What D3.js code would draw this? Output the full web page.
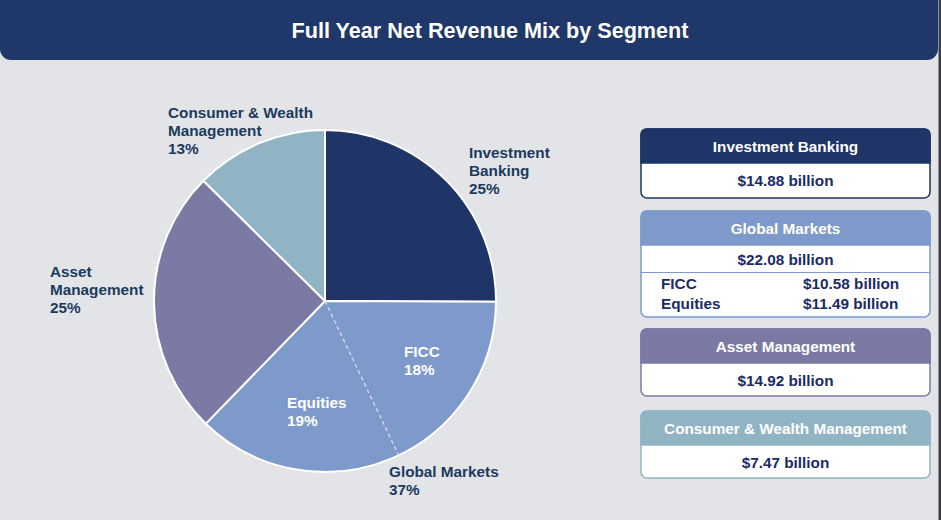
<!DOCTYPE html>
<html><head><meta charset="utf-8">
<script src="https://cdn.jsdelivr.net/npm/d3@7"></script>
<style>
html,body{margin:0;padding:0;background:#e3e4e8;}
svg{display:block;}
text{font-family:"Liberation Sans",Arial,sans-serif;font-weight:bold;}
</style></head>
<body>
<svg id="chart" width="941" height="520"></svg>
<script>
// ---- data ----
const title = "Full Year Net Revenue Mix by Segment";
const segments = ["Investment Banking", "FICC", "Equities", "Asset Management", "Consumer & Wealth Management"];
const revenue = [14.88, 10.58, 11.49, 14.92, 7.47]; // $ billion
const pctLabels = ["25%", "18%", "19%", "25%", "13%"];
const groupNames = ["Investment Banking", "Global Markets", "Asset Management", "Consumer & Wealth Management"];
const groupValues = ["$14.88 billion", "$22.08 billion", "$14.92 billion", "$7.47 billion"];
const groupPct = ["25%", "37%", "25%", "13%"];
const subNames = ["FICC", "Equities"];
const subValues = ["$10.58 billion", "$11.49 billion"];

const colors = ["#1f3567", "#7d9aca", "#7d9aca", "#7a7aa5", "#91b4c4"];
const groupColors = ["#1f3567", "#7d9aca", "#7a7aa5", "#91b4c4"];

const W = 941, H = 520;
const svg = d3.select("#chart");
const FS = 15.3;

// background
svg.append("rect").attr("width", W).attr("height", H).attr("fill", "#e3e4e8");
svg.append("rect").attr("x", 938.5).attr("y", 0).attr("width", 2.5).attr("height", H).attr("fill", "#3a3d44");

// title bar with rounded bottom corners
const tb = {x: 0, y: -12, w: 938, h: 72, r: 11};
svg.append("rect").attr("x", tb.x).attr("y", tb.y).attr("width", tb.w).attr("height", tb.h)
  .attr("rx", tb.r).attr("fill", "#1f3769");
svg.append("text").attr("x", 490).attr("y", 37.5).attr("text-anchor", "middle")
  .attr("fill", "#ffffff").attr("font-size", 22)
  .style("font-family", "'Liberation Sans Narrow','Arial Narrow','Liberation Sans',Arial,sans-serif")
  .attr("textLength", 397).attr("lengthAdjust", "spacingAndGlyphs")
  .text(title);

// ---- pie ----
const cx = 325, cy = 301, R = 171;
const pie = d3.pie().sort(null).value(d => d);
const arcsData = pie(revenue);
const arc = d3.arc().innerRadius(0).outerRadius(R);
const g = svg.append("g").attr("transform", `translate(${cx},${cy})`);

// merge FICC + Equities into one Global Markets wedge for the outline
const wedges = [
  {startAngle: arcsData[0].startAngle, endAngle: arcsData[0].endAngle, c: colors[0]},
  {startAngle: arcsData[1].startAngle, endAngle: arcsData[2].endAngle, c: colors[1]},
  {startAngle: arcsData[3].startAngle, endAngle: arcsData[3].endAngle, c: colors[3]},
  {startAngle: arcsData[4].startAngle, endAngle: arcsData[4].endAngle, c: colors[4]}
];
g.selectAll("path.w").data(wedges).join("path").attr("class", "w")
  .attr("d", arc).attr("fill", d => d.c).attr("stroke", "#ffffff").attr("stroke-width", 2)
  .attr("stroke-linejoin", "round");

// dashed FICC / Equities divider
const a = arcsData[1].endAngle;
g.append("line").attr("x1", 0).attr("y1", 0)
  .attr("x2", Math.sin(a) * R).attr("y2", -Math.cos(a) * R)
  .attr("stroke", "#d3ddef").attr("stroke-width", 1.3).attr("stroke-dasharray", "4,3");

// outside labels
const outLabels = [
  {lines: ["Investment", "Banking", groupPct[0]], x: 469, y: 158},
  {lines: ["Global Markets", groupPct[1]], x: 389, y: 477},
  {lines: ["Asset", "Management", groupPct[2]], x: 50, y: 277},
  {lines: ["Consumer & Wealth", "Management", groupPct[3]], x: 168, y: 118}
];
outLabels.forEach(l => {
  const t = svg.append("text").attr("x", l.x).attr("y", l.y).attr("fill", "#1c3a5e").attr("font-size", FS);
  l.lines.forEach((s, i) => t.append("tspan").attr("x", l.x).attr("dy", i ? 18 : 0).text(s));
});
// inside labels (FICC, Equities)
const inLabels = [
  {lines: [segments[1], pctLabels[1]], x: 404, y: 357},
  {lines: [segments[2], pctLabels[2]], x: 287, y: 408}
];
inLabels.forEach(l => {
  const t = svg.append("text").attr("x", l.x).attr("y", l.y).attr("fill", "#ffffff").attr("font-size", FS);
  l.lines.forEach((s, i) => t.append("tspan").attr("x", l.x).attr("dy", i ? 18 : 0).text(s));
});

// ---- boxes ----
const bx = 641, bw = 289;
const boxes = [
  {y: 129, hh: 34, bh: 69},
  {y: 211, hh: 34, bh: 106},
  {y: 329, hh: 34, bh: 67},
  {y: 411, hh: 34, bh: 67}
];
function roundedTop(x, y, w, h, r) {
  return `M${x},${y + h}V${y + r}Q${x},${y} ${x + r},${y}H${x + w - r}Q${x + w},${y} ${x + w},${y + r}V${y + h}Z`;
}
boxes.forEach((b, i) => {
  const col = groupColors[i];
  svg.append("rect").attr("x", bx).attr("y", b.y).attr("width", bw).attr("height", b.bh)
    .attr("rx", 6).attr("fill", "#ffffff").attr("stroke", col).attr("stroke-width", 1.5);
  svg.append("path").attr("d", roundedTop(bx, b.y, bw, b.hh, 6)).attr("fill", col)
    .attr("stroke", col).attr("stroke-width", 1.5);
  svg.append("text").attr("x", bx + bw / 2).attr("y", b.y + 23).attr("text-anchor", "middle")
    .attr("fill", "#ffffff").attr("font-size", FS).text(groupNames[i]);
  svg.append("text").attr("x", bx + bw / 2).attr("y", b.y + b.hh + 23 - (i === 1 ? 3 : 0)).attr("text-anchor", "middle")
    .attr("fill", "#1c2b66").attr("font-size", FS).text(groupValues[i]);
});
// Global Markets sub rows
svg.append("line").attr("x1", bx).attr("x2", bx + bw).attr("y1", 272.5).attr("y2", 272.5)
  .attr("stroke", groupColors[1]).attr("stroke-width", 1.2);
subNames.forEach((s, i) => {
  svg.append("text").attr("x", 661).attr("y", 289 + i * 20).attr("fill", "#1c2b66").attr("font-size", FS).text(s);
  svg.append("text").attr("x", 803).attr("y", 289 + i * 20).attr("fill", "#1c2b66").attr("font-size", FS).text(subValues[i]);
});
</script>
</body></html>
